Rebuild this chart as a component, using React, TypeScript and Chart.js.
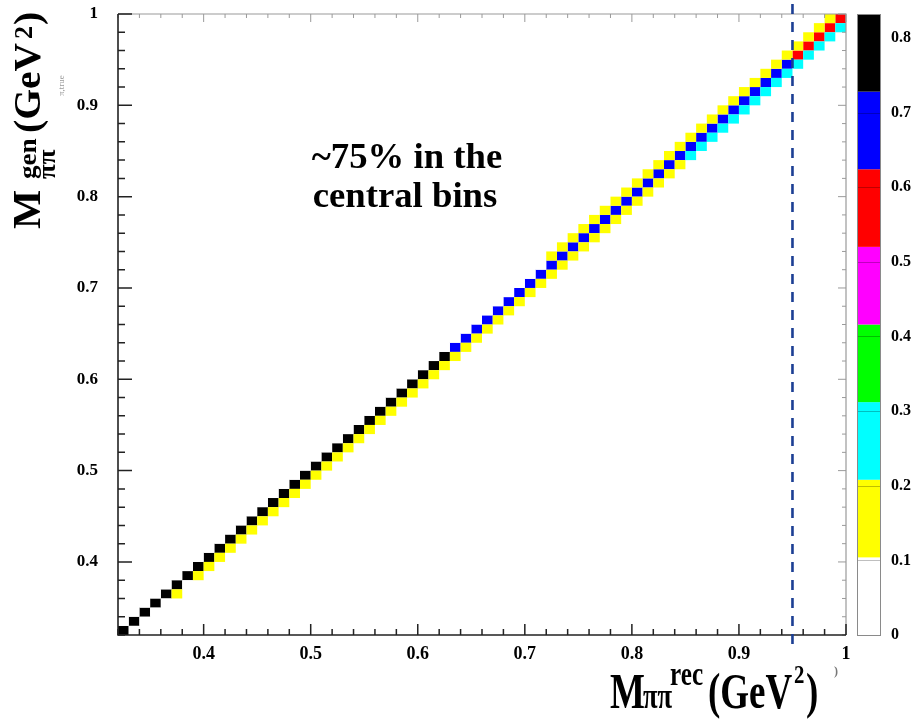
import React, { useEffect, useRef } from 'react';
import { Chart, registerables } from 'chart.js';

Chart.register(...registerables);

// ---- data ----
const binEdges = [
  0.32, 0.33, 0.34, 0.35, 0.36, 0.37, 0.38, 0.39,
  0.40, 0.41, 0.42, 0.43, 0.44, 0.45, 0.46, 0.47, 0.48, 0.49,
  0.50, 0.51, 0.52, 0.53, 0.54, 0.55, 0.56, 0.57, 0.58, 0.59,
  0.60, 0.61, 0.62, 0.63, 0.64, 0.65, 0.66, 0.67, 0.68, 0.69,
  0.70, 0.71, 0.72, 0.73, 0.74, 0.75, 0.76, 0.77, 0.78, 0.79,
  0.80, 0.81, 0.82, 0.83, 0.84, 0.85, 0.86, 0.87, 0.88, 0.89,
  0.90, 0.91, 0.92, 0.93, 0.94, 0.95, 0.96, 0.97, 0.98, 0.99,
  1.00,
];

// diagonal cells: rec bin i, gen bin i
const diagValues = [
  0.82, 0.81, 0.81, 0.80, 0.80, 0.80, 0.79, 0.79, 0.79, 0.79,
  0.78, 0.78, 0.78, 0.78, 0.77, 0.77, 0.77, 0.77, 0.76, 0.76,
  0.76, 0.76, 0.75, 0.75, 0.75, 0.75, 0.74, 0.74, 0.74, 0.74,
  0.74,
  0.72, 0.72, 0.71, 0.71, 0.71, 0.70, 0.70, 0.70, 0.70, 0.69,
  0.69, 0.69, 0.68, 0.68, 0.68, 0.68, 0.67, 0.67, 0.67, 0.67,
  0.66, 0.66, 0.66, 0.66, 0.65, 0.65, 0.65, 0.65, 0.64, 0.64,
  0.64, 0.64,
  0.60, 0.59, 0.58, 0.58, 0.57,
];

// below diagonal: rec bin i+1, gen bin i  (i = 0..66)
const lowerValues = [
  0.03, 0.05, 0.07, 0.09,
  0.11,
  0.10,
  0.12, 0.12, 0.12, 0.13, 0.13, 0.13, 0.13, 0.14, 0.14, 0.14,
  0.14, 0.14, 0.15, 0.15, 0.15, 0.15, 0.15, 0.15, 0.16, 0.16,
  0.16, 0.16, 0.16, 0.16, 0.17, 0.17, 0.17, 0.17, 0.17, 0.17,
  0.18, 0.18, 0.18, 0.18, 0.18, 0.18, 0.19, 0.19, 0.19, 0.19,
  0.19, 0.19, 0.20, 0.20, 0.20, 0.20,
  0.21, 0.21, 0.22, 0.22, 0.22, 0.23, 0.23, 0.23, 0.24, 0.24,
  0.24, 0.25, 0.25, 0.26, 0.26,
];

// above diagonal: rec bin i, gen bin i+1  (i = 0..66)
const upperValues = [
  0.01, 0.01, 0.01, 0.01, 0.01, 0.01, 0.01, 0.02, 0.02, 0.02,
  0.02, 0.02, 0.03, 0.03, 0.03, 0.03, 0.04, 0.04, 0.04, 0.04,
  0.05, 0.05, 0.05, 0.05, 0.06, 0.06, 0.06, 0.06, 0.07, 0.07,
  0.07, 0.07, 0.08, 0.08, 0.08, 0.09, 0.09, 0.09, 0.10, 0.10,
  0.11, 0.11, 0.12, 0.12, 0.12, 0.13, 0.13, 0.13, 0.13, 0.14,
  0.14, 0.14, 0.14, 0.14, 0.15, 0.15, 0.15, 0.15, 0.15, 0.15,
  0.16, 0.16, 0.16, 0.16, 0.16, 0.17, 0.17,
];

const paletteColors = ['#ffffff', '#ffff00', '#00ffff', '#00ff00', '#ff00ff', '#ff0000', '#0000ff', '#000000'];
const paletteLevels = [0, 0.104, 0.208, 0.312, 0.416, 0.52, 0.624, 0.728, 0.832];
const colorbarTicks = [0, 0.1, 0.2, 0.3, 0.4, 0.5, 0.6, 0.7, 0.8];
const colorbarLabels = ['0', '0.1', '0.2', '0.3', '0.4', '0.5', '0.6', '0.7', '0.8'];
const cutValue = 0.95;
const annotationLines = ['~75% in the', 'central bins'];
const axisMin = 0.32;
const axisMax = 1.0;
const tickStep = 0.02;

const SERIF = "'Liberation Serif', 'Times New Roman', 'DejaVu Serif', serif";

type Cell = { xi: number; yi: number; v: number };

function buildCells(): Cell[] {
  const cells: Cell[] = [];
  diagValues.forEach((v, i) => cells.push({ xi: i, yi: i, v }));
  lowerValues.forEach((v, i) => cells.push({ xi: i + 1, yi: i, v }));
  upperValues.forEach((v, i) => cells.push({ xi: i, yi: i + 1, v }));
  return cells;
}

function colorFor(v: number): string {
  let c = paletteColors[0];
  for (let j = 0; j < paletteColors.length; j++) {
    if (v >= paletteLevels[j]) c = paletteColors[j];
  }
  return c;
}

function isMajor(v: number): boolean {
  const r = Math.round(v * 10);
  return Math.abs(v * 10 - r) < 1e-6;
}

function tickLabel(value: any): string {
  const v = Number(value);
  if (!isMajor(v)) return '';
  const r = Math.round(v * 10);
  return r === 10 ? '1' : (r / 10).toFixed(1);
}

function piece(ctx: CanvasRenderingContext2D, text: string, x: number, y: number, size: number, sx: number, align: CanvasTextAlign = 'left') {
  ctx.save();
  ctx.translate(x, y);
  ctx.scale(sx, 1);
  ctx.font = `bold ${size}px ${SERIF}`;
  ctx.textAlign = align;
  ctx.textBaseline = 'alphabetic';
  ctx.fillText(text, 0, 0);
  ctx.restore();
}

const heatmapPlugin = {
  id: 'heatmapCells',
  beforeDatasetsDraw(chart: any) {
    const { ctx } = chart;
    const xs = chart.scales.x;
    const ys = chart.scales.y;
    ctx.save();
    for (const c of buildCells()) {
      const x0 = xs.getPixelForValue(binEdges[c.xi]);
      const x1 = xs.getPixelForValue(binEdges[c.xi + 1]);
      const y0 = ys.getPixelForValue(binEdges[c.yi]);
      const y1 = ys.getPixelForValue(binEdges[c.yi + 1]);
      ctx.fillStyle = colorFor(c.v);
      ctx.fillRect(x0, y1, x1 - x0, y0 - y1);
    }
    ctx.restore();
  },
  afterDatasetsDraw(chart: any) {
    const { ctx, chartArea } = chart;
    const { left, right, top, bottom } = chartArea;
    const xs = chart.scales.x;
    const ys = chart.scales.y;
    ctx.save();
    // frame: top / right gray
    ctx.strokeStyle = '#9a9a9a';
    ctx.lineWidth = 1.2;
    ctx.beginPath();
    ctx.moveTo(left, top);
    ctx.lineTo(right, top);
    ctx.lineTo(right, bottom);
    ctx.stroke();
    // top / right ticks
    ctx.lineWidth = 1;
    ctx.beginPath();
    for (const t of xs.ticks) {
      const px = xs.getPixelForValue(t.value);
      const len = isMajor(t.value) ? 8 : 4;
      ctx.moveTo(px, top);
      ctx.lineTo(px, top + len);
    }
    for (const t of ys.ticks) {
      const py = ys.getPixelForValue(t.value);
      const len = isMajor(t.value) ? 8 : 4;
      ctx.moveTo(right, py);
      ctx.lineTo(right - len, py);
    }
    ctx.stroke();
    // left / bottom axes
    ctx.strokeStyle = '#222';
    ctx.lineWidth = 1.6;
    ctx.beginPath();
    ctx.moveTo(left, top);
    ctx.lineTo(left, bottom);
    ctx.lineTo(right, bottom);
    ctx.stroke();
    ctx.lineWidth = 1.5;
    ctx.beginPath();
    for (const t of xs.ticks) {
      const px = xs.getPixelForValue(t.value);
      const len = isMajor(t.value) ? 11 : 6;
      ctx.moveTo(px, bottom);
      ctx.lineTo(px, bottom - len);
    }
    for (const t of ys.ticks) {
      const py = ys.getPixelForValue(t.value);
      const len = isMajor(t.value) ? 14 : 7;
      ctx.moveTo(left, py);
      ctx.lineTo(left + len, py);
    }
    ctx.stroke();
    // dashed cut line
    const cx = xs.getPixelForValue(cutValue);
    ctx.strokeStyle = '#1c3f94';
    ctx.lineWidth = 2.6;
    ctx.setLineDash([10, 8]);
    ctx.beginPath();
    ctx.moveTo(cx, top - 10);
    ctx.lineTo(cx, bottom + 15);
    ctx.stroke();
    ctx.setLineDash([]);
    ctx.restore();
  },
  afterDraw(chart: any) {
    const { ctx, chartArea } = chart;
    const { top, bottom } = chartArea;
    ctx.save();
    // colour bar
    const barL = 857;
    const barR = 880;
    const zMax = paletteLevels[paletteLevels.length - 1];
    const zPix = (v: number) => bottom - (v / zMax) * (bottom - top);
    for (let j = 0; j < paletteColors.length; j++) {
      const y0 = zPix(paletteLevels[j]);
      const y1 = zPix(paletteLevels[j + 1]);
      ctx.fillStyle = paletteColors[j];
      ctx.fillRect(barL, y1, barR - barL, y0 - y1);
    }
    ctx.strokeStyle = 'rgba(0,0,0,0.25)';
    ctx.lineWidth = 1;
    ctx.beginPath();
    colorbarTicks.forEach((v) => {
      if (v <= 0) return;
      const py = Math.round(zPix(v)) + 0.5;
      ctx.moveTo(barL, py);
      ctx.lineTo(barR, py);
    });
    ctx.stroke();
    ctx.strokeStyle = '#8a8a8a';
    ctx.lineWidth = 1;
    ctx.strokeRect(barL + 0.5, top + 0.5, barR - barL, bottom - top);
    ctx.fillStyle = '#000';
    ctx.font = `bold 16px ${SERIF}`;
    ctx.textAlign = 'left';
    ctx.textBaseline = 'middle';
    colorbarTicks.forEach((v, k) => {
      ctx.fillText(colorbarLabels[k], 891, zPix(v));
    });

    // annotation
    ctx.fillStyle = '#000';
    piece(ctx, annotationLines[0], 407, 168, 36, 1.02, 'center');
    piece(ctx, annotationLines[1], 405, 207, 36, 1.02, 'center');

    // x title
    piece(ctx, 'M', 610, 708, 50, 0.74);
    piece(ctx, '\u03c0\u03c0', 643, 708, 36, 0.74);
    piece(ctx, 'rec', 670, 685, 34, 0.74);
    piece(ctx, '(GeV', 708, 708, 50, 0.74);
    piece(ctx, '2', 794, 683, 26, 0.8);
    piece(ctx, ')', 806, 708, 50, 0.74);

    // y title (rotated)
    ctx.save();
    ctx.translate(40, 229);
    ctx.rotate(-Math.PI / 2);
    piece(ctx, 'M', 0, 0, 40, 1.04);
    piece(ctx, 'gen', 50, -4, 26, 1.04);
    piece(ctx, '\u03c0\u03c0', 50, 15, 26, 1.04);
    piece(ctx, '(GeV', 96, 0, 38, 1.04);
    piece(ctx, '2', 190, -8, 26, 1.0);
    piece(ctx, ')', 204, 0, 38, 1.04);
    ctx.restore();

    // faint leftovers of an underlying label
    ctx.save();
    ctx.fillStyle = '#9a9a9a';
    ctx.translate(62, 96);
    ctx.rotate(-Math.PI / 2);
    ctx.font = `9px ${SERIF}`;
    ctx.fillText('\u03c0,true', 0, 0);
    ctx.restore();
    ctx.fillStyle = '#777';
    ctx.font = `bold 12px ${SERIF}`;
    ctx.fillText(')', 834, 672);
    ctx.restore();
  },
};

export default function App() {
  const canvasRef = useRef<HTMLCanvasElement | null>(null);

  useEffect(() => {
    document.body.style.margin = '0';
    const canvas = canvasRef.current;
    if (!canvas) return;
    const points = buildCells().map((c) => ({
      x: (binEdges[c.xi] + binEdges[c.xi + 1]) / 2,
      y: (binEdges[c.yi] + binEdges[c.yi + 1]) / 2,
    }));
    const tickFont = { family: SERIF, size: 17, weight: 'bold' as const };
    const chart = new Chart(canvas, {
      type: 'scatter',
      data: {
        datasets: [
          {
            label: 'response',
            data: points,
            pointRadius: 0,
            pointHoverRadius: 0,
            showLine: false,
          },
        ],
      },
      options: {
        responsive: false,
        animation: false,
        devicePixelRatio: 1,
        events: [],
        layout: { padding: { top: 14, right: 68, left: 0, bottom: 0 } },
        plugins: {
          legend: { display: false },
          tooltip: { enabled: false },
          title: { display: false },
        },
        scales: {
          x: {
            type: 'linear',
            min: axisMin,
            max: axisMax,
            grid: { display: false, drawTicks: false },
            border: { display: false },
            ticks: {
              stepSize: tickStep,
              autoSkip: false,
              maxRotation: 0,
              includeBounds: false,
              color: '#000',
              font: { ...tickFont, size: 18 },
              padding: 9,
              callback: tickLabel,
            },
            afterFit: (s: any) => {
              s.height = 85;
              s.paddingLeft = 0;
              s.paddingRight = 0;
              s.paddingTop = 0;
              s.paddingBottom = 0;
            },
          },
          y: {
            type: 'linear',
            min: axisMin,
            max: axisMax,
            grid: { display: false, drawTicks: false },
            border: { display: false },
            ticks: {
              stepSize: tickStep,
              autoSkip: false,
              includeBounds: false,
              color: '#000',
              font: tickFont,
              padding: 20,
              callback: tickLabel,
            },
            afterFit: (s: any) => {
              s.width = 118;
              s.paddingLeft = 0;
              s.paddingRight = 0;
              s.paddingTop = 0;
              s.paddingBottom = 0;
            },
          },
        },
      },
      plugins: [heatmapPlugin],
    });
    return () => chart.destroy();
  }, []);

  return (
    <div style={{ width: 914, height: 720 }}>
      <canvas ref={canvasRef} width={914} height={720} style={{ display: 'block' }} />
    </div>
  );
}
